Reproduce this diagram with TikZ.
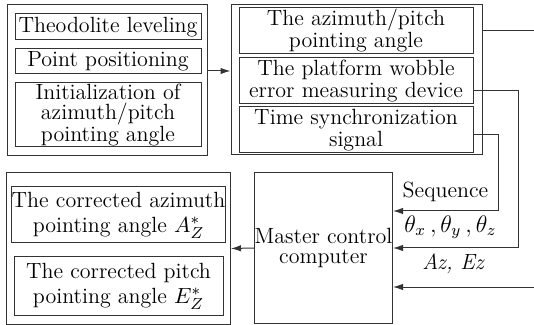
\documentclass[tikz,border=0pt]{standalone}
\usepackage{tikz}
\usetikzlibrary{arrows.meta}

\tikzset{
  box/.style={draw=black!80, line width=.5pt, align=center, inner sep=0pt,
    font=\fontsize{11}{10}\selectfont},
  skip/.style={font=\fontsize{11}{#1}\selectfont},
  group/.style={draw=black!80, line width=.5pt, inner sep=0pt},
  sig/.style={draw=black!80, line width=.5pt},
  arr/.style={sig, -{Latex[length=5pt,width=3.2pt]}},
}

\begin{document}
\begin{tikzpicture}[x=.5pt, y=-.5pt]
    \useasboundingbox (0, 0) rectangle (534, 325);

    % preparation steps
    \node[group, minimum width=100pt, minimum height=75.5pt] (prep) at (107, 80.5) {};
    \node[box, minimum width=93pt, minimum height=13pt] (level) at (108, 27) {Theodolite leveling};
    \node[box, minimum width=93pt, minimum height=12.5pt] (pos) at (108, 61.5) {Point positioning};
    \node[box, minimum width=93pt, minimum height=32pt] (init) at (108, 115)
        {Initialization of\\azimuth/pitch\\pointing angle};

    % measured signals
    \node[group, minimum width=125.5pt, minimum height=75pt] (meas) at (356.5, 80) {};
    \node[box, skip=11, minimum width=117pt, minimum height=23pt] (angle) at (356, 31)
        {The azimuth/pitch\\pointing angle};
    \node[box, skip=11, minimum width=117pt, minimum height=23pt] (wobble) at (356, 81)
        {The platform wobble\\error measuring device};
    \node[box, skip=11, minimum width=117pt, minimum height=23pt] (sync) at (356, 130)
        {Time synchronization\\signal};

    % computer and results
    \node[box, minimum width=69pt, minimum height=75pt] (mcc) at (323.5, 248)
        {Master control\\computer};
    \node[group, minimum width=112pt, minimum height=75.5pt] (res) at (118.5, 248.5) {};
    \node[box, skip=12.5, minimum width=104.5pt, minimum height=28pt] (cazi) at (118.5, 215)
        {The corrected azimuth\\pointing angle $A_{Z}^{*}$};
    \node[box, skip=12.5, minimum width=104.5pt, minimum height=29pt] (cpit) at (118.5, 286)
        {The corrected pitch\\pointing angle $E_{Z}^{*}$};

    \coordinate (aout) at (534, 31);
    \coordinate (ain) at (534, 287);
    \coordinate (wcorner) at (518, 91);
    \coordinate (scorner) at (498, 135);

    \draw[arr] ([yshift=4.75pt]prep.east) -- ([yshift=4.75pt]prep.east -| meas.west);
    \draw[sig] (angle.east -| meas.east) -- (aout);
    \draw[arr] (sync.east |- scorner) -- (scorner) |- ([yshift=18.5pt]mcc.east)
        node[pos=.75, above=1pt, font=\fontsize{11}{10}\selectfont] (lseq) {Sequence};
    \draw[arr] (wobble.east |- wcorner) -- (wcorner) |- (mcc.east)
        node[pos=.77, above=1pt, font=\large] (lth) {$\theta_x\,,\theta_y\,,\theta_z$};
    \draw[arr] (ain) -- ([yshift=-19.5pt]mcc.east)
        node[pos=.57, above=3pt, font=\fontsize{11}{10}\selectfont] (laz) {\textit{Az, Ez}};
    \draw[arr] (mcc.west) -- (res.east);
  \end{tikzpicture}
\end{document}
